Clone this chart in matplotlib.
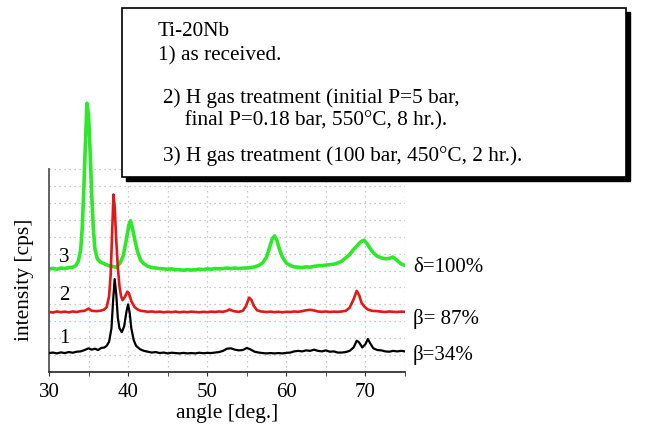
import matplotlib.pyplot as plt
from matplotlib.patches import Rectangle

plt.rcParams['font.family'] = ['Liberation Serif', 'DejaVu Serif']

# XRD patterns of Ti-20Nb, offset vertically (arbitrary units)
angle_1 = [30.0, 30.5, 31.0, 31.5, 32.0, 32.5, 33.0, 33.5, 34.0, 34.5, 35.0, 35.4,
           35.8, 36.2, 36.6, 37.0, 37.3, 37.6, 37.9, 38.1, 38.3, 38.5, 38.7, 38.9,
           39.2, 39.5, 39.8, 40.0, 40.2, 40.4, 40.7, 41.0, 41.5, 42.0, 42.5, 43.0,
           43.5, 44.0, 44.5, 45.0, 45.5, 46.0, 46.5, 47.0, 47.5, 48.0, 48.5, 49.0,
           49.5, 50.0, 50.5, 51.0, 51.5, 52.0, 52.5, 53.0, 53.5, 54.0, 54.5, 55.0,
           55.4, 56.0, 56.5, 57.0, 57.5, 58.0, 58.5, 59.0, 59.5, 60.0, 60.5, 61.0,
           61.5, 62.0, 62.5, 63.0, 63.5, 64.0, 64.5, 65.0, 65.5, 66.0, 66.5, 67.0,
           67.5, 68.0, 68.5, 68.9, 69.2, 69.6, 70.0, 70.3, 70.6, 71.0, 71.5, 72.0,
           72.5, 73.0, 73.5, 74.0, 74.5, 75.0]
counts_1 = [1.12, 1.15, 1.10, 1.16, 1.12, 1.18, 1.14, 1.20, 1.22, 1.30, 1.40, 1.32,
            1.38, 1.30, 1.42, 1.45, 1.55, 1.80, 2.60, 4.20, 5.50, 4.60, 3.20, 2.60,
            2.35, 2.70, 3.60, 4.00, 3.50, 2.60, 1.90, 1.55, 1.35, 1.25, 1.20, 1.15,
            1.18, 1.12, 1.15, 1.10, 1.14, 1.12, 1.10, 1.13, 1.10, 1.12, 1.10, 1.14,
            1.11, 1.13, 1.12, 1.15, 1.18, 1.25, 1.38, 1.40, 1.32, 1.28, 1.30, 1.42,
            1.35, 1.20, 1.15, 1.12, 1.10, 1.12, 1.10, 1.12, 1.10, 1.13, 1.15, 1.22,
            1.25, 1.22, 1.28, 1.25, 1.32, 1.25, 1.22, 1.28, 1.20, 1.22, 1.15, 1.15,
            1.18, 1.25, 1.45, 1.85, 1.75, 1.45, 1.65, 1.95, 1.70, 1.40, 1.30, 1.28,
            1.22, 1.20, 1.25, 1.22, 1.25, 1.22]

angle_2 = [30.0, 30.5, 31.0, 31.5, 32.0, 32.5, 33.0, 33.5, 34.0, 34.5, 35.0, 35.4,
           36.0, 36.5, 37.0, 37.3, 37.6, 37.8, 38.0, 38.15, 38.3, 38.5, 38.7, 38.9,
           39.1, 39.3, 39.6, 39.9, 40.1, 40.4, 40.8, 41.2, 41.6, 42.0, 42.5, 43.0,
           43.5, 44.0, 44.5, 45.0, 45.5, 46.0, 46.5, 47.0, 47.5, 48.0, 48.5, 49.0,
           49.5, 50.0, 50.5, 51.0, 51.5, 52.0, 52.5, 52.8, 53.2, 53.6, 54.0, 54.5,
           54.9, 55.3, 55.6, 55.9, 56.3, 56.8, 57.5, 58.0, 58.5, 59.0, 59.5, 60.0,
           60.5, 61.0, 61.5, 62.0, 62.5, 63.0, 63.5, 64.0, 64.5, 65.0, 65.5, 66.0,
           66.5, 67.0, 67.5, 68.0, 68.5, 68.9, 69.2, 69.5, 69.9, 70.3, 70.8, 71.5,
           72.0, 72.5, 73.0, 73.5, 74.0, 74.5, 75.0]
counts_2 = [3.55, 3.52, 3.58, 3.54, 3.57, 3.53, 3.58, 3.55, 3.60, 3.62, 3.75, 3.62,
            3.60, 3.62, 3.70, 3.85, 4.50, 5.80, 8.50, 10.50, 9.80, 7.80, 6.20, 5.10,
            4.50, 4.25, 4.45, 4.75, 4.65, 4.20, 3.85, 3.70, 3.62, 3.60, 3.56, 3.58,
            3.55, 3.57, 3.53, 3.56, 3.54, 3.57, 3.53, 3.56, 3.54, 3.57, 3.55, 3.53,
            3.56, 3.54, 3.57, 3.55, 3.58, 3.56, 3.62, 3.70, 3.62, 3.58, 3.56, 3.62,
            3.90, 4.40, 4.25, 3.90, 3.65, 3.58, 3.55, 3.57, 3.54, 3.56, 3.53, 3.56,
            3.55, 3.58, 3.56, 3.60, 3.65, 3.68, 3.64, 3.58, 3.56, 3.58, 3.55, 3.57,
            3.56, 3.58, 3.62, 3.80, 4.30, 4.80, 4.55, 4.10, 3.85, 3.70, 3.62, 3.60,
            3.57, 3.55, 3.58, 3.56, 3.55, 3.57, 3.56]

angle_3 = [30.0, 30.5, 31.0, 31.5, 32.0, 32.5, 33.0, 33.4, 33.7, 34.0, 34.2, 34.4,
           34.6, 34.8, 35.0, 35.2, 35.4, 35.6, 35.8, 36.1, 36.5, 37.0, 37.5, 38.0,
           38.5, 39.0, 39.4, 39.8, 40.1, 40.3, 40.6, 40.9, 41.2, 41.6, 42.0, 42.5,
           43.0, 43.5, 44.0, 44.5, 45.0, 45.5, 46.0, 46.5, 47.0, 47.5, 48.0, 48.5,
           49.0, 49.5, 50.0, 50.5, 51.0, 51.5, 52.0, 52.5, 53.0, 53.5, 54.0, 54.5,
           55.0, 55.5, 56.0, 56.5, 57.0, 57.5, 57.9, 58.2, 58.5, 58.8, 59.1, 59.5,
           60.0, 60.5, 61.0, 61.5, 62.0, 62.5, 63.0, 63.5, 64.0, 64.5, 65.0, 65.5,
           66.0, 66.5, 67.0, 67.5, 68.0, 68.5, 69.0, 69.4, 69.8, 70.2, 70.6, 71.0,
           71.5, 72.0, 72.5, 73.0, 73.5, 74.0, 74.5, 75.0]
counts_3 = [6.10, 6.13, 6.08, 6.15, 6.12, 6.18, 6.20, 6.30, 6.55, 7.20, 8.50, 10.80,
            13.50, 15.90, 15.20, 13.00, 10.50, 8.50, 7.30, 6.70, 6.50, 6.40, 6.30, 6.25,
            6.20, 6.45, 6.90, 7.90, 8.70, 8.95, 8.40, 7.70, 7.10, 6.60, 6.40, 6.25,
            6.18, 6.15, 6.12, 6.10, 6.08, 6.10, 6.05, 6.05, 6.02, 6.05, 6.03, 6.05,
            6.08, 6.06, 6.10, 6.08, 6.12, 6.10, 6.12, 6.15, 6.12, 6.15, 6.12, 6.15,
            6.15, 6.18, 6.22, 6.30, 6.45, 6.80, 7.40, 7.85, 8.05, 7.80, 7.30, 6.80,
            6.45, 6.30, 6.22, 6.20, 6.18, 6.22, 6.20, 6.25, 6.28, 6.30, 6.32, 6.35,
            6.38, 6.45, 6.55, 6.75, 6.95, 7.25, 7.50, 7.70, 7.80, 7.60, 7.30, 7.05,
            6.85, 6.75, 6.70, 6.72, 6.80, 6.60, 6.40, 6.30]

curve_numbers = ['1', '2', '3']
phase_labels = ['\u03b2=34%', '\u03b2= 87%', '\u03b4=100%']
legend_lines = ['Ti-20Nb',
                '1) as received.',
                '2) H gas treatment (initial P=5 bar,',
                '    final P=0.18 bar, 550\u00b0C, 8 hr.).',
                '3) H gas treatment (100 bar, 450\u00b0C, 2 hr.).']

W, H = 645, 427
fig = plt.figure(figsize=(W / 100, H / 100), dpi=100)

def fx(px):
    return px / W

def fy(py):
    return 1 - py / H

ax = fig.add_axes([fx(49), fy(373), fx(405) - fx(49), fy(100) - fy(373)])
ax.set_xlim(30, 75)
ax.set_ylim(0, 16.15)

# dotted background grid, limited to the framed region
for gx in range(35, 80, 5):
    ax.plot([gx, gx], [0, 12], color='#b8b8b8', lw=0.9, ls=(0, (1, 3)), zorder=0)
for gy in range(1, 13):
    c = '#66dddd' if gy in (3, 6) else '#b8b8b8'
    ax.plot([30, 75], [gy, gy], color=c, lw=0.9, ls=(0, (1, 3)), zorder=0)

ax.plot(angle_3, counts_3, color='#2ee82a', lw=2.6, zorder=2)
ax.plot(angle_2, counts_2, color='#e01818', lw=1.9, zorder=3)
ax.plot(angle_1, counts_1, color='black', lw=1.6, zorder=4)

num_y = [2.07, 4.6, 6.86]
for lbl, y in zip(curve_numbers, num_y):
    ax.text(31.9, y, lbl, fontsize=15, ha='center', va='center')

phase_y = [1.07, 3.2, 6.27]
for lbl, y in zip(phase_labels, phase_y):
    ax.text(76.0, y, lbl, fontsize=15, ha='left', va='center', clip_on=False)

ax.spines['top'].set_visible(False)
ax.spines['right'].set_visible(False)
ax.spines['left'].set_bounds(0, 12)
ax.spines['left'].set_color('#555555')
ax.spines['bottom'].set_color('#333333')
ax.spines['left'].set_linewidth(1.3)
ax.spines['bottom'].set_linewidth(1.3)
ax.set_yticks([])
ax.set_xticks([30, 40, 50, 60, 70])
ax.set_xticks([35, 45, 55, 65, 75], minor=True)
ax.tick_params(axis='x', which='both', direction='out', length=3, color='#333333',
               labelsize=15, pad=4)

fig.text(fx(227), fy(414), 'angle [deg.]', fontsize=15.5, ha='center', va='center')
fig.text(fx(25), fy(280), 'intensity [cps]', fontsize=15.5, ha='center', va='center',
         rotation=90)

# sample description box with drop shadow
shadow = Rectangle((fx(126), fy(182)), fx(626) - fx(122), fy(9) - fy(178),
                   transform=fig.transFigure, facecolor='black', edgecolor='black',
                   zorder=5)
box = Rectangle((fx(122), fy(178)), fx(626) - fx(122), fy(9) - fy(178),
                transform=fig.transFigure, facecolor='white', edgecolor='black',
                lw=1.2, zorder=6)
fig.add_artist(shadow)
fig.add_artist(box)

text_x = [158, 158, 163, 163, 163]
text_y = [31, 56, 98, 121, 156]
for line, tx, ty in zip(legend_lines, text_x, text_y):
    fig.text(fx(tx), fy(ty), line, fontsize=15.3, ha='left', va='center', zorder=7)

fig.savefig('out.png', dpi=100)
